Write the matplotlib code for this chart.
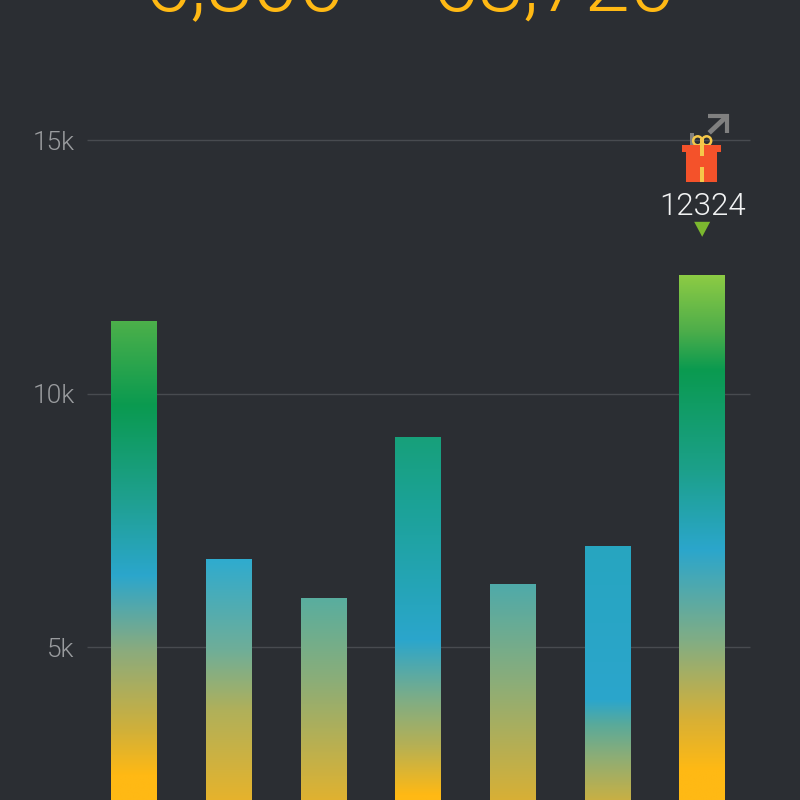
import numpy as np
import matplotlib
matplotlib.use("Agg")
import matplotlib.pyplot as plt
from matplotlib.colors import to_rgb
from matplotlib.patches import Circle, Polygon, Rectangle
from matplotlib.transforms import Affine2D

# values
days = [0, 1, 2, 3, 4, 5, 6]
steps = [11430, 6736, 5967, 9142, 6243, 6992, 12324]
grid_vals = [5000, 10000, 15000]
tick_labels = ["5k", "10k", "15k"]
total_left = "6,800"
total_right = "68,720"

# gradient of each bar: step value -> colour
GREEN, BLUE, YELLOW = "#0a9a50", "#2ba6cc", "#ffb914"
grad_vals = [
    [11430, 9773, 7899, 6420, 4941, 3363, 2475],
    [6736, 4941, 3757, 1982],
    [5967, 4349, 1982],
    [9142, 7899, 5138, 3955, 3067, 2081],
    [6243, 4349, 1982],
    [6992, 3955, 3462, 2870, 1982],
    [12324, 11252, 10463, 8491, 6913, 5138, 3560, 2574],
]
grad_cols = [
    ["#4cb04a", GREEN, "#1fa090", BLUE, "#8aab7e", "#d0b03a", YELLOW],
    ["#2fabcf", "#6fae98", "#b0b05a", "#e6b32c"],
    ["#59ae9f", "#8bad78", "#e0b230"],
    ["#17a07a", "#1ba295", BLUE, "#7fad85", "#b5b055", YELLOW],
    ["#4faaaa", "#8aad7a", "#d8b035"],
    ["#27a5c0", BLUE, "#5aaa9a", "#8aad78", "#c8b044"],
    ["#8ccb44", "#4fae4a", GREEN, "#1ca08a", BLUE, "#80ad85", "#d8b035", YELLOW],
]

BG = "#2b2e33"
FONT = ["Roboto", "Liberation Sans"]
YMIN, YMAX = 1985, 17764
XMIN, XMAX = -1.415, 7.033

fig = plt.figure(figsize=(8, 8), dpi=100, facecolor=BG)
ax = fig.add_axes([0, 0, 1, 1], facecolor=BG)
ax.set_xlim(XMIN, XMAX)
ax.set_ylim(YMIN, YMAX)
ax.axis("off")

ax.hlines(grid_vals, -0.5, 6.5, color="#484b50", lw=1, zorder=1)
for v, lab in zip(grid_vals, tick_labels):
    ax.annotate(lab, (-0.5, v), xytext=(-12, 0), textcoords="offset pixels",
                ha="right", va="center_baseline", color="#9a9c9f", fontsize=19,
                family=FONT, weight=300)

bars = ax.bar(days, steps, width=0.48, bottom=0, color="none", zorder=2)
for bar, v, gv, gc in zip(bars, steps, grad_vals, grad_cols):
    ys = np.linspace(v, YMIN, 400)
    rgb = np.array([to_rgb(c) for c in gc])
    img = np.stack([np.interp(ys, gv[::-1], rgb[::-1, i]) for i in range(3)], axis=1)
    x0 = bar.get_x()
    ax.imshow(img[:, None, :], extent=(x0, x0 + bar.get_width(), YMIN, v),
              aspect="auto", zorder=2, interpolation="bilinear")
ax.set_xlim(XMIN, XMAX)
ax.set_ylim(YMIN, YMAX)

# big totals, cut off by the top of the picture
ax.text(0.306, 1 - 11 / 800, total_left, transform=ax.transAxes, ha="center", va="baseline",
        color="#ffb914", fontsize=60, family=FONT, weight=300)
ax.text(0.6925, 1 - 11 / 800, total_right, transform=ax.transAxes, ha="center", va="baseline",
        color="#ffb914", fontsize=59, family=FONT, weight=300)

# marker above the best bar, offsets in pixels from the bar top (y going up)
px, py = ax.transData.transform((days[6], steps[6]))
tr = Affine2D().translate(px, py)
TOP = 276  # pixel row of the bar top


def up(y):
    return TOP - y


ax.text(0, up(215), str(steps[6]), transform=tr, ha="center", va="baseline", color="#f2f3f4",
        fontsize=22.5, family=FONT, weight=300, zorder=5)
ax.add_patch(Polygon([(-8, up(222)), (8, up(222)), (0, up(237))], transform=tr, color="#7cb82f", lw=0, zorder=5))

# share arrow
ax.plot([7, 24], [up(133), up(117)], transform=tr, color="#808080", lw=3.5, solid_capstyle="butt", zorder=3)
ax.plot([6, 25, 25], [up(116), up(116), up(133)], transform=tr, color="#808080", lw=3,
        solid_joinstyle="miter", solid_capstyle="butt", zorder=3)
ax.add_patch(Rectangle((-12, up(145)), 3.5, 12, transform=tr, color="#808080", lw=0, zorder=3))

# gift
RED, RIB = "#f4522a", "#f5c84a"
for cx in (-4.5, 4.5):
    ax.add_patch(Circle((cx, up(141)), 4.5, transform=tr, fc="none", ec=RIB, lw=1.8, zorder=4))
ax.add_patch(Rectangle((-20, up(152)), 39, 7, transform=tr, color=RED, lw=0, zorder=5))
ax.add_patch(Rectangle((-16, up(182)), 31, 30, transform=tr, color=RED, lw=0, zorder=5))
ax.add_patch(Rectangle((-2.5, up(156)), 4.5, 17, transform=tr, color=RIB, lw=0, zorder=6))
ax.add_patch(Rectangle((-2.5, up(182)), 4.5, 15, transform=tr, color=RIB, lw=0, zorder=6))

fig.savefig("out.png", dpi=100, facecolor=BG)
